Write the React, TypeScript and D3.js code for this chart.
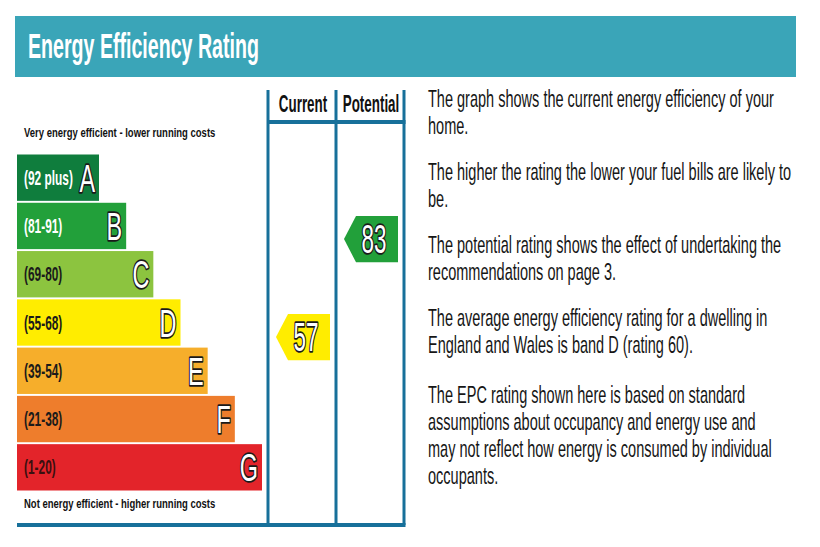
import { scaleBand, scaleLinear } from "d3";

// band data, best to worst
const BANDS = ["A", "B", "C", "D", "E", "F", "G"];
const BAND_RANGES = ["(92 plus)", "(81-91)", "(69-80)", "(55-68)", "(39-54)", "(21-38)", "(1-20)"];
const BAND_MIN = [92, 81, 69, 55, 39, 21, 1];
const BAND_COLORS = ["#0f7d3d", "#22a03a", "#8cc43f", "#ffed00", "#f6ae2b", "#ee7d2c", "#e3242a"];
const RANGE_TEXT_COLORS = ["#ffffff", "#ffffff", "#1a1a1a", "#1a1a1a", "#1a1a1a", "#1a1a1a", "#3a1010"];

// rating columns
const COLUMNS = ["Current", "Potential"];
const RATING_VALUES = [57, 83];

const TITLE = "Energy Efficiency Rating";
const TOP_NOTE = "Very energy efficient - lower running costs";
const BOTTOM_NOTE = "Not energy efficient - higher running costs";

const PARAGRAPHS = [
  ["The graph shows the current energy efficiency of your", "home."],
  ["The higher the rating the lower your fuel bills are likely to", "be."],
  ["The potential rating shows the effect of undertaking the", "recommendations on page 3."],
  ["The average energy efficiency rating for a dwelling in", "England and Wales is band D (rating 60)."],
  [
    "The EPC rating shown here is based on standard",
    "assumptions about occupancy and energy use and",
    "may not reflect how energy is consumed by individual",
    "occupants.",
  ],
];

const WIDTH = 820;
const HEIGHT = 547;
const FONT = "'Liberation Sans', Arial, sans-serif";
const LINE_COLOR = "#17709a";
const HEADER_COLOR = "#3aa5b8";

const bandY = scaleBand<string>().domain(BANDS).range([154.5, 490.5]).paddingInner(0.04).paddingOuter(0);
const bandRight = scaleLinear().domain([0, BANDS.length - 1]).range([99, 262]);
const BAR_LEFT = 17;

const columnX = scaleBand<string>().domain(COLUMNS).range([268, 404]);
const ratingY = scaleLinear().domain([0, 100]).range([552, 175]);

function bandOf(value: number) {
  const i = BAND_MIN.findIndex((m) => value >= m);
  return i < 0 ? BANDS.length - 1 : i;
}

function NText({
  x,
  y,
  sx,
  size,
  weight = "normal",
  anchor = "start",
  fill = "#222",
  stroke,
  strokeWidth,
  children,
}: {
  x: number;
  y: number;
  sx: number;
  size: number;
  weight?: string;
  anchor?: string;
  fill?: string;
  stroke?: string;
  strokeWidth?: number;
  children: string | number;
}) {
  return (
    <text
      transform={`translate(${x},${y}) scale(${sx},1)`}
      fontFamily={FONT}
      fontSize={size}
      fontWeight={weight}
      textAnchor={anchor}
      fill={fill}
      stroke={stroke}
      strokeWidth={strokeWidth}
      strokeLinejoin="round"
      style={{ paintOrder: "stroke" }}
    >
      {children}
    </text>
  );
}

export default function App() {
  const bh = bandY.bandwidth();
  const tableTop = 90;
  const headerLine = 122;
  const tableBottom = 525;

  let lineY = 107;
  const noteLines: { text: string; y: number }[] = [];
  PARAGRAPHS.forEach((para, pi) => {
    para.forEach((line, li) => {
      noteLines.push({ text: line, y: lineY });
      lineY += li < para.length - 1 ? 27 : pi === 3 ? 50 : 46;
    });
  });

  return (
    <div style={{ position: "absolute", left: 0, top: 0 }}>
      <svg width={WIDTH} height={HEIGHT} style={{ display: "block", background: "#fff" }}>
        {/* header bar */}
        <rect x={15} y={16} width={781} height={61} fill={HEADER_COLOR} />
        <NText x={28} y={58} sx={0.56} size={35} weight="bold" fill="#fff">
          {TITLE}
        </NText>

        <NText x={24} y={137} sx={0.73} size={13} weight="bold" fill="#111">
          {TOP_NOTE}
        </NText>
        <NText x={24} y={508} sx={0.73} size={13} weight="bold" fill="#111">
          {BOTTOM_NOTE}
        </NText>

        {/* bands */}
        {BANDS.map((b, i) => {
          const y0 = bandY(b) as number;
          const right = bandRight(i);
          return (
            <g key={b}>
              <rect x={BAR_LEFT} y={y0} width={right - BAR_LEFT} height={bh} fill={BAND_COLORS[i]} />
              <NText x={24} y={y0 + bh / 2 + 7} sx={0.61} size={19.5} weight="bold" fill={RANGE_TEXT_COLORS[i]}>
                {BAND_RANGES[i]}
              </NText>
              <NText
                x={right - 4}
                y={y0 + bh / 2 + 14}
                sx={0.6}
                size={39}
                anchor="end"
                fill="#fff"
                stroke="#1a1a1a"
                strokeWidth={3.5}
              >
                {b}
              </NText>
            </g>
          );
        })}

        {/* table lines */}
        {[268, 336, 404].map((x) => (
          <line key={x} x1={x} x2={x} y1={tableTop} y2={tableBottom} stroke={LINE_COLOR} strokeWidth={3} />
        ))}
        <line x1={268} x2={405.5} y1={headerLine} y2={headerLine} stroke={LINE_COLOR} strokeWidth={4} />
        <line x1={17} x2={405.5} y1={tableBottom} y2={tableBottom} stroke={LINE_COLOR} strokeWidth={4} />

        {COLUMNS.map((c) => (
          <NText
            key={c}
            x={(columnX(c) as number) + columnX.bandwidth() / 2 + 1}
            y={112}
            sx={0.57}
            size={23.5}
            weight="bold"
            anchor="middle"
            fill="#111"
          >
            {c}
          </NText>
        ))}

        {/* rating arrows */}
        {COLUMNS.map((c, i) => {
          const v = RATING_VALUES[i];
          const x0 = columnX(c) as number;
          const tip = x0 + 8;
          const right = x0 + columnX.bandwidth() - 6;
          const cy = ratingY(v);
          const h = bh;
          const pts = [
            [tip, cy],
            [tip + 12, cy - h / 2],
            [right, cy - h / 2],
            [right, cy + h / 2],
            [tip + 12, cy + h / 2],
          ]
            .map((p) => p.join(","))
            .join(" ");
          return (
            <g key={c}>
              <polygon points={pts} fill={BAND_COLORS[bandOf(v)]} />
              <NText
                x={(tip + right) / 2 + 3}
                y={cy + 14}
                sx={0.56}
                size={40}
                anchor="middle"
                fill="#fff"
                stroke="#1a1a1a"
                strokeWidth={3.5}
              >
                {v}
              </NText>
            </g>
          );
        })}

        {/* explanatory notes */}
        {noteLines.map((l, i) => (
          <NText key={i} x={428} y={l.y} sx={0.605} size={24} fill="#161616">
            {l.text}
          </NText>
        ))}
      </svg>
    </div>
  );
}
